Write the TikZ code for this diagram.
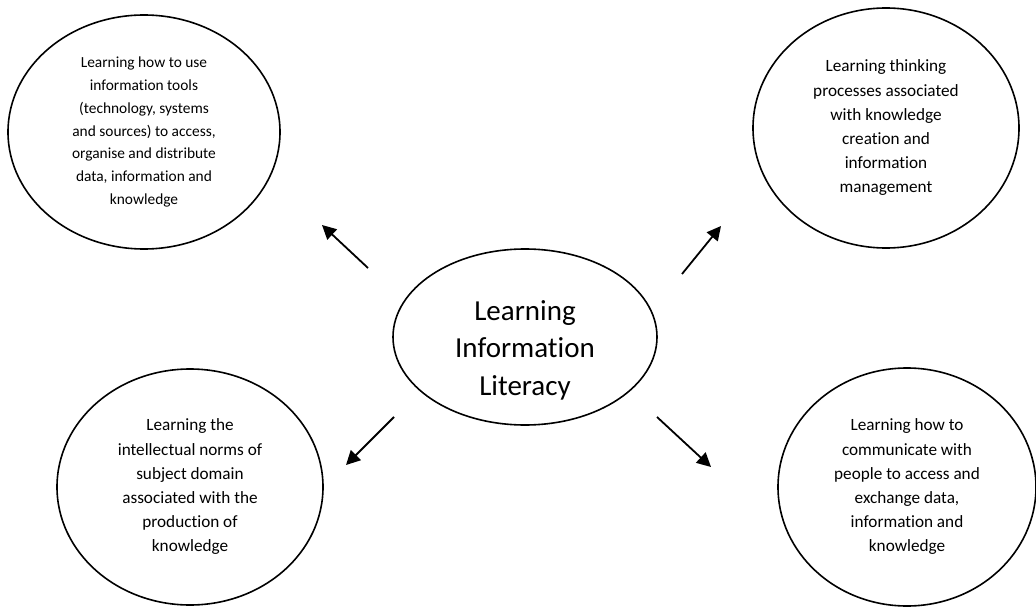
\documentclass[tikz,border=0pt]{standalone}
\usepackage{fontspec}
\setmainfont{Carlito}[Ligatures=NoCommon]
\usetikzlibrary{shapes.geometric,arrows.meta}
\begin{document}
\begin{tikzpicture}[x=1pt,y=-1pt,
  bubble/.style={draw=black,line width=1.6pt,ellipse,inner sep=0pt,align=center,
    font=\fontsize{17.2}{24.2}\selectfont},
  smallbubble/.style={bubble,font=\fontsize{15.4}{22.7}\selectfont},
  hub/.style={draw=black,line width=1.6pt,ellipse,inner sep=0pt},
  hubtext/.style={align=center,inner sep=0pt,font=\fontsize{29}{37.5}\selectfont},
  pointer/.style={line width=1.8pt,-{Triangle[length=14pt,width=14pt]}}]
\useasboundingbox (0,0) rectangle (1036,607);
\node[smallbubble,minimum width=272pt,minimum height=234pt] (tl) at (144,132)
  {Learning how to use\\information tools\\(technology, systems\\and sources) to access,\\organise and distribute\\data, information and\\knowledge};
\node[bubble,minimum width=266pt,minimum height=240pt] (tr) at (886,128)
  {Learning thinking\\processes associated\\with knowledge\\creation and\\information\\management};
\node[hub,minimum width=264pt,minimum height=176pt] (c) at (525,337) {};
\node[hubtext] (ct) at (525,350) {Learning\\Information\\Literacy};
\node[bubble,minimum width=266pt,minimum height=236pt] (bl) at (190,487)
  {Learning the\\intellectual norms of\\subject domain\\associated with the\\production of\\knowledge};
\node[bubble,minimum width=258pt,minimum height=238pt] (br) at (907,487)
  {Learning how to\\communicate with\\people to access and\\exchange data,\\information and\\knowledge};
\coordinate (a1s) at (368,268); \coordinate (a1e) at (322,225);
\coordinate (a2s) at (682,274); \coordinate (a2e) at (721,226);
\coordinate (a3s) at (394,417); \coordinate (a3e) at (346,465);
\coordinate (a4s) at (657,417); \coordinate (a4e) at (711,467);
\draw[pointer] (a1s) -- (a1e);
\draw[pointer] (a2s) -- (a2e);
\draw[pointer] (a3s) -- (a3e);
\draw[pointer] (a4s) -- (a4e);
\end{tikzpicture}
\end{document}
